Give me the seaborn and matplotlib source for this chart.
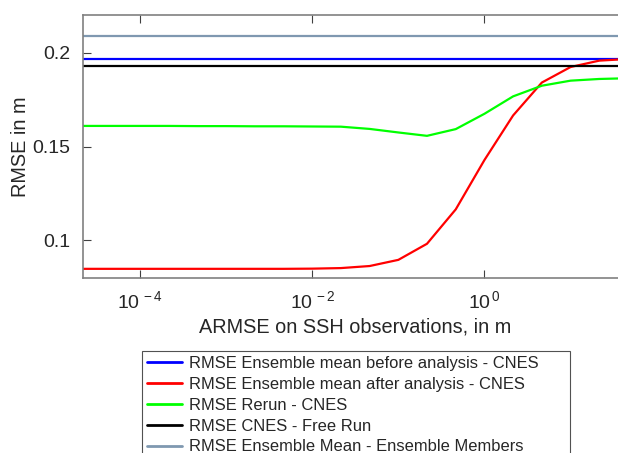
import numpy as np
import pandas as pd
import matplotlib
matplotlib.use("Agg")
import matplotlib.pyplot as plt
import seaborn as sns
from matplotlib.lines import Line2D

# ---- data ----
armse = [2.15e-5, 4.64e-5, 1.0e-4, 2.15e-4, 4.64e-4, 1.0e-3, 2.15e-3, 4.64e-3,
         1.0e-2, 2.15e-2, 4.64e-2, 0.1, 0.215, 0.464, 1.0, 2.15, 4.64, 10.0, 21.5, 46.4]
rmse_before = [0.197] * 20
rmse_after = [0.0846, 0.0846, 0.0846, 0.0846, 0.0846, 0.0846, 0.0846, 0.0846,
              0.0847, 0.0850, 0.0861, 0.0894, 0.0980, 0.1164, 0.1428, 0.1666,
              0.1842, 0.1925, 0.1959, 0.1968]
rmse_rerun = [0.1610, 0.1610, 0.1610, 0.1610, 0.1609, 0.1609, 0.1608, 0.1608,
              0.1607, 0.1606, 0.1594, 0.1575, 0.1557, 0.1593, 0.1675, 0.1768,
              0.1825, 0.1852, 0.1861, 0.1865]
rmse_free = [0.1932] * 20
rmse_members = [0.2093] * 20

labels = ["RMSE Ensemble mean before analysis - CNES",
          "RMSE Ensemble mean after analysis - CNES",
          "RMSE Rerun - CNES",
          "RMSE CNES - Free Run",
          "RMSE Ensemble Mean - Ensemble Members"]
colors = ["#0000ff", "#ff0000", "#00ff00", "#000000", "#7f98b0"]
series = [rmse_before, rmse_after, rmse_rerun, rmse_free, rmse_members]
xtick_vals = [1e-4, 1e-2, 1e0]
xtick_labels = [r"$10^{\,-4}$", r"$10^{\,-2}$", r"$10^{\,0}$"]
ytick_vals = [0.1, 0.15, 0.2]
ytick_labels = ["0.1", "0.15", "0.2"]

sns.set_style("white")
plt.rcParams["font.family"] = ["Liberation Sans", "DejaVu Sans"]
plt.rcParams["mathtext.fontset"] = "custom"
plt.rcParams["mathtext.rm"] = "Liberation Sans"
plt.rcParams["mathtext.it"] = "Liberation Sans"
plt.rcParams["mathtext.sf"] = "Liberation Sans"

fig = plt.figure(figsize=(6.18, 4.53), dpi=100)
W, H = 618, 453
x0, x1, ytop, ybot = 82.5, 628, 15, 278
ax = fig.add_axes([x0 / W, 1 - ybot / H, (x1 - x0) / W, (ybot - ytop) / H])

rows = []
for lab, vals in zip(labels, series):
    for xv, yv in zip(armse, vals):
        rows.append({"armse": xv, "rmse": yv, "series": lab})
df = pd.DataFrame(rows)

sns.lineplot(data=df, x="armse", y="rmse", hue="series", hue_order=labels,
             palette=dict(zip(labels, colors)), linewidth=1.6, ax=ax,
             legend=False, estimator=None, sort=False)

ax.set_xscale("log")
ax.set_xlim(2.15e-5, 46.4)
ax.set_ylim(0.0797, 0.2203)
ax.set_xticks(xtick_vals)
ax.set_xticklabels(xtick_labels)
ax.xaxis.set_minor_locator(matplotlib.ticker.NullLocator())
ax.set_yticks(ytick_vals)
ax.set_yticklabels(ytick_labels)
ax.tick_params(axis="both", which="major", direction="in", length=6, width=0.8,
               color="#404040", labelsize=14, labelcolor="#262626",
               bottom=True, left=True, top=True, right=True)
ax.tick_params(axis="x", pad=9)
ax.tick_params(axis="y", pad=8.5)
for s in ax.spines.values():
    s.set_color("#808080")
    s.set_linewidth(1.2)
ax.set_xlabel("ARMSE on SSH observations, in m", fontsize=14.3, color="#262626", labelpad=3.5)
ax.set_ylabel("RMSE in m", fontsize=14.3, color="#262626", labelpad=1.7)

handles = [Line2D([], [], color=c, linewidth=2) for c in colors]
lx0, lx1, ly0 = 142, 570, 350.7
leg = fig.legend(handles, labels, loc="upper left",
                 bbox_to_anchor=(lx0 / W, 1 - 470 / H, (lx1 - lx0) / W, (470 - ly0) / H),
                 mode="expand", fontsize=11.9, frameon=True, fancybox=False,
                 handlelength=2.1, handletextpad=0.45, labelspacing=0.36,
                 borderpad=0.3, borderaxespad=0)
leg.get_frame().set_edgecolor("#262626")
leg.get_frame().set_linewidth(0.8)

fig.savefig("out.png", dpi=100)
